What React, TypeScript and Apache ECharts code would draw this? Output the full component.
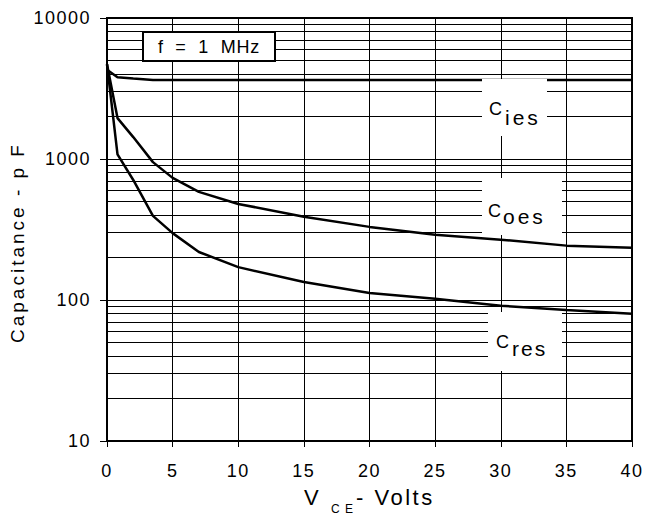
import React, { useEffect, useRef } from "react";
import * as echarts from "echarts";

// Collector-emitter voltage (V) sample points
const vceVolts = [0, 0.8, 2, 3.5, 5, 7, 10, 15, 20, 25, 30, 35, 40];
// Capacitances in pF
const ciesPf = [4300, 3800, 3720, 3630, 3630, 3630, 3630, 3630, 3630, 3630, 3630, 3630, 3630];
const coesPf = [4700, 1950, 1430, 950, 735, 585, 480, 390, 330, 290, 268, 243, 235];
const cresPf = [4700, 1080, 710, 395, 298, 219, 171, 134, 112, 102, 91, 85, 80];

// Log-paper minor grid values
const minorGridValues = [
  20, 30, 40, 50, 60, 70, 80, 90,
  200, 300, 400, 500, 600, 700, 800, 900,
  2000, 3000, 4000, 5000, 6000, 7000, 8000, 9000,
];

const Y_TITLE = "Capacitance - p F";
const FREQ_NOTE = "f  =  1  MHz";
const FONT = "'Liberation Sans', Arial, Helvetica, sans-serif";

// letter spacing (px) to mimic the wide-set datasheet typography
const spacingFor = (t: string): number => {
  if (t === Y_TITLE) return 3;
  if (/^\d+$/.test(t)) return 1.5;
  if (t === "ies" || t === "oes") return 3;
  if (t === "res") return 2;
  if (t === "- Volts") return 2.5;
  if (t === "C E") return 1;
  if (t === FREQ_NOTE) return 0.8;
  return 0;
};

export default function App() {
  const ref = useRef<HTMLDivElement>(null);

  useEffect(() => {
    if (!ref.current) return;
    const host = ref.current;
    const chart = echarts.init(host, null, { renderer: "svg" });

    const curve = (name: string, vals: number[]) => ({
      type: "line",
      name,
      data: vceVolts.map((x, i) => [x, vals[i]]),
      symbol: "none",
      showSymbol: false,
      silent: true,
      z: 5,
      lineStyle: { color: "#000", width: 2.5 },
      emphasis: { disabled: true },
    });

    chart.setOption({
      animation: false,
      backgroundColor: "#fff",
      grid: {
        left: 107,
        top: 18,
        right: 15,
        bottom: 74,
        show: true,
        borderColor: "#000",
        borderWidth: 2,
        backgroundColor: "transparent",
      },
      xAxis: {
        type: "value",
        min: 0,
        max: 40,
        interval: 5,
        axisLine: { show: true, onZero: false, lineStyle: { color: "#000", width: 2 } },
        axisTick: { show: true, length: 6, lineStyle: { color: "#000", width: 1 } },
        axisLabel: { color: "#000", fontSize: 18, fontFamily: FONT, margin: 21 },
        splitLine: { show: true, lineStyle: { color: "#000", width: 1 } },
      },
      yAxis: {
        type: "log",
        logBase: 10,
        min: 10,
        max: 10000,
        splitNumber: 3,
        axisLine: { show: true, lineStyle: { color: "#000", width: 2 } },
        axisTick: { show: true, length: 7, lineStyle: { color: "#000", width: 1 } },
        axisLabel: {
          color: "#000",
          fontSize: 18,
          fontFamily: FONT,
          margin: 16,
          formatter: (v: number) => String(Math.round(v)),
        },
        splitLine: { show: true, lineStyle: { color: "#000", width: 1 } },
        name: Y_TITLE,
        nameLocation: "middle",
        nameGap: 80,
        nameTextStyle: { color: "#000", fontSize: 19, fontFamily: FONT, padding: [0, 26, 0, 0] },
      },
      series: [
        {
          type: "line",
          data: [],
          silent: true,
          z: 1,
          markLine: {
            silent: true,
            animation: false,
            symbol: ["none", "none"],
            label: { show: false },
            emphasis: { disabled: true },
            lineStyle: { color: "#000", width: 1, type: "solid" },
            data: minorGridValues.map((v) => ({ yAxis: v })),
          },
        },
        curve("Cies", ciesPf),
        curve("Coes", coesPf),
        curve("Cres", cresPf),
      ],
    });

    const box = (x: number, y: number, w: number, h: number, stroke = false) => ({
      type: "rect",
      z: 100,
      silent: true,
      shape: { x, y, width: w, height: h },
      style: stroke
        ? { fill: "#fff", stroke: "#000", lineWidth: 2 }
        : { fill: "#fff", stroke: null },
    });
    const txt = (text: string, x: number, y: number, size: number, align = "left") => ({
      type: "text",
      z: 101,
      silent: true,
      x,
      y,
      style: {
        text,
        fill: "#000",
        fontSize: size,
        fontFamily: FONT,
        align,
        verticalAlign: "middle",
      },
    });

    chart.setOption({
      graphic: [
        // frequency note
        box(143, 32, 132, 29, true),
        txt(FREQ_NOTE, 209, 47, 18, "center"),
        // curve labels
        box(482, 79, 65, 57),
        txt("C", 489, 109, 18),
        txt("ies", 505, 117, 21),
        box(482, 178, 80, 57),
        txt("C", 488, 211, 18),
        txt("oes", 503, 216.5, 21),
        box(488, 312, 74, 59),
        txt("C", 496, 341.5, 18),
        txt("res", 512, 348.5, 21),
        // x-axis title
        txt("V", 304, 497.5, 22),
        txt("C E", 331, 508.5, 12),
        txt("- Volts", 356, 497.5, 22),
      ],
    });

    const applySpacing = () => {
      host.querySelectorAll("text").forEach((el) => {
        const s = spacingFor((el.textContent || "").trim());
        if (s) el.setAttribute("letter-spacing", String(s));
      });
    };
    applySpacing();
    chart.on("finished", applySpacing);
    const raf = requestAnimationFrame(applySpacing);

    return () => {
      cancelAnimationFrame(raf);
      chart.dispose();
    };
  }, []);

  return (
    <div
      ref={ref}
      style={{ position: "fixed", left: 0, top: 0, width: 647, height: 515, background: "#fff" }}
    />
  );
}
